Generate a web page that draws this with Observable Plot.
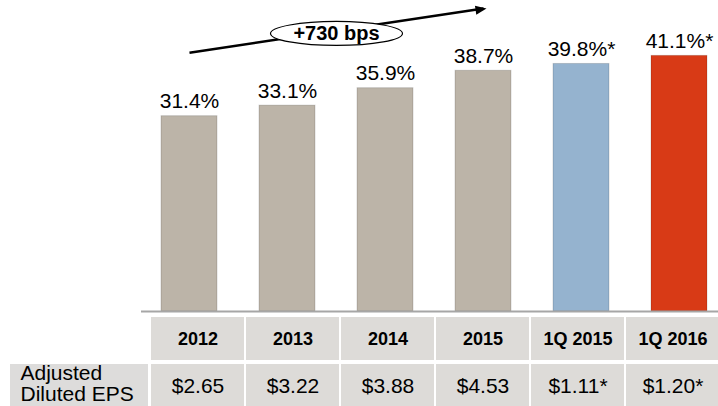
<!DOCTYPE html>
<html><head><meta charset="utf-8">
<script src="https://cdn.jsdelivr.net/npm/d3@7"></script>
<script src="https://cdn.jsdelivr.net/npm/@observablehq/plot@0.6"></script>
<style>
body{margin:0;background:#fff;}
#chart{width:718px;height:406px;overflow:hidden;}
#chart svg{display:block;}
</style></head><body><div id="chart"></div>
<script>
// ---- data ----
const categories = ["2012", "2013", "2014", "2015", "1Q 2015", "1Q 2016"];
const margins = [31.4, 33.1, 35.9, 38.7, 39.8, 41.1];
const marginLabels = ["31.4%", "33.1%", "35.9%", "38.7%", "39.8%*", "41.1%*"];
const epsLabels = ["$2.65", "$3.22", "$3.88", "$4.53", "$1.11*", "$1.20*"];
const rowLabel = "Adjusted\nDiluted EPS";
const trend = [{x1: "2012", y1: 41.6, x2: "2015", y2: 48.7}];
const trendNote = [{x: "2013", y: 44.7, label: "+730 bps"}];

// ---- drawing ----
const FONT = "'Liberation Sans', Arial, Helvetica, sans-serif";
const barColors = ["#bcb4a8", "#bcb4a8", "#bcb4a8", "#bcb4a8", "#95b3cf", "#d83a16"];

const ellipse = {
  draw(ctx) {
    const rx = 66, ry = 12, k = 0.5523;
    ctx.moveTo(rx, 0);
    ctx.bezierCurveTo(rx, ry * k, rx * k, ry, 0, ry);
    ctx.bezierCurveTo(-rx * k, ry, -rx, ry * k, -rx, 0);
    ctx.bezierCurveTo(-rx, -ry * k, -rx * k, -ry, 0, -ry);
    ctx.bezierCurveTo(rx * k, -ry, rx, -ry * k, rx, 0);
    ctx.closePath();
  }
};

// filled arrow head pointing along +x, tip at origin
const arrowHead = {
  draw(ctx) {
    ctx.moveTo(0, 0);
    ctx.lineTo(-11, -4.5);
    ctx.lineTo(-11, 4.5);
    ctx.closePath();
  }
};

const rows = categories.map((c, i) => ({cat: c, value: margins[i], label: marginLabels[i], eps: epsLabels[i]}));

const chart = Plot.plot({
  width: 718,
  height: 316,
  marginTop: 0,
  marginBottom: 5,
  marginLeft: 141,
  marginRight: 0,
  style: {fontFamily: FONT, fontSize: "21px", background: "white"},
  x: {domain: categories, range: [140, 728], paddingInner: 0.43, paddingOuter: 0.215, axis: null},
  y: {domain: [0, 50], range: [311, 0], axis: null},
  color: {domain: categories, range: barColors},
  marks: [
    Plot.barY(rows, {x: "cat", y: "value", fill: "cat", stroke: "black", strokeOpacity: 0.15, inset: 0}),
    Plot.ruleY([0], {stroke: "#a6a6a6", strokeWidth: 2}),
    Plot.text(rows, {x: "cat", y: "value", text: "label", dy: -8, lineAnchor: "bottom", fontSize: 21}),
    Plot.link(trend, {x1: "x1", y1: "y1", x2: "x2", y2: "y2", stroke: "black", strokeWidth: 2.5}),
    Plot.dot(trend, {x: "x2", y: "y2", symbol: arrowHead, r: 5, fill: "black", stroke: "none", rotate: -8.4, dx: 3}),
    Plot.dot(trendNote, {x: "x", y: "y", dx: 49, symbol: ellipse, r: 5, fill: "white", stroke: "black", strokeWidth: 1.2}),
    Plot.text(trendNote, {x: "x", y: "y", dx: 49, text: "label", fontWeight: "bold", fontSize: 20, lineAnchor: "middle"})
  ]
});

const table = Plot.plot({
  width: 718,
  height: 90,
  marginTop: 0,
  marginBottom: 0,
  marginLeft: 10,
  marginRight: 570,
  style: {fontFamily: FONT, fontSize: "21px", background: "white"},
  x: {domain: categories, range: [150, 720], paddingInner: 0.02, paddingOuter: 0, axis: null},
  y: {domain: ["head", "eps"], range: [1, 92], paddingInner: 0.085, paddingOuter: 0, axis: null},
  marks: [
    Plot.cell(rows, {x: "cat", y: () => "head", fill: "#dddbd8"}),
    Plot.cell(rows, {x: "cat", y: () => "eps", fill: "#dddbd8"}),
    Plot.cell(["eps"], {y: d => d, fill: "#dddcdb"}),
    Plot.text(rows, {x: "cat", y: () => "head", text: "cat", fontWeight: "bold", fontSize: 18}),
    Plot.text(rows, {x: "cat", y: () => "eps", text: "eps", fontSize: 21}),
    Plot.text([rowLabel], {y: () => "eps", text: d => d, frameAnchor: "left", dx: 10, dy: -2, textAnchor: "start", fontSize: 21, lineHeight: 1.0})
  ]
});

document.getElementById("chart").append(chart, table);
</script>
</body></html>
